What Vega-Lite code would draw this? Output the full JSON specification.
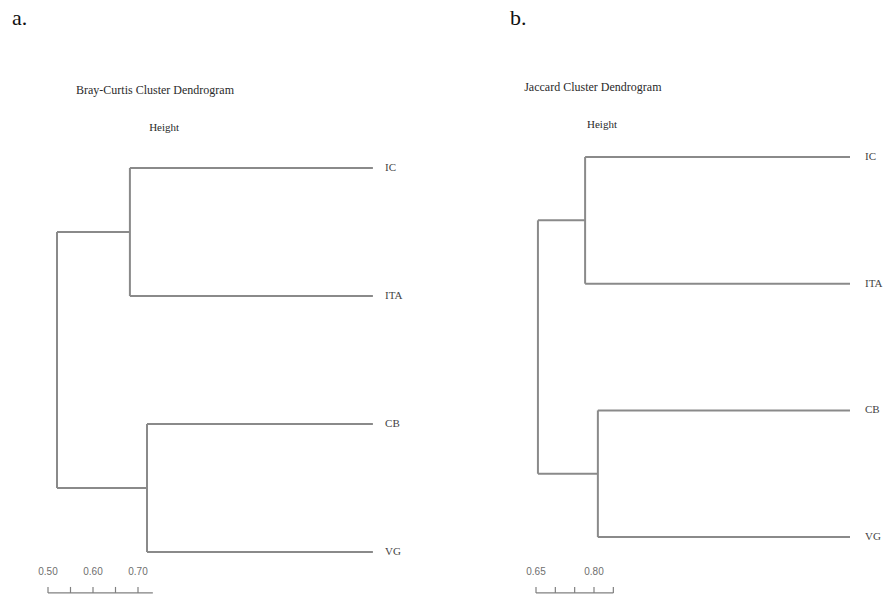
{
  "$schema": "https://vega.github.io/schema/vega-lite/v6.json",
  "padding": 0,
  "spacing": 0,
  "bounds": "flush",
  "background": "white",
  "config": {"view": {"stroke": null}},
  "datasets": {
    "treeA": [
      {"h": 0.682, "h2": 1.222, "p": 1, "p2": 1},
      {"h": 0.682, "h2": 1.222, "p": 2, "p2": 2},
      {"h": 0.682, "h2": 0.682, "p": 1, "p2": 2},
      {"h": 0.52, "h2": 0.682, "p": 1.5, "p2": 1.5},
      {"h": 0.72, "h2": 1.222, "p": 3, "p2": 3},
      {"h": 0.72, "h2": 1.222, "p": 4, "p2": 4},
      {"h": 0.72, "h2": 0.72, "p": 3, "p2": 4},
      {"h": 0.52, "h2": 0.72, "p": 3.5, "p2": 3.5},
      {"h": 0.52, "h2": 0.52, "p": 1.5, "p2": 3.5}
    ],
    "axisA": [
      {"h": 0.5, "h2": 0.733, "p": 4.32, "p2": 4.32},
      {"h": 0.5, "h2": 0.5, "p": 4.273, "p2": 4.32},
      {"h": 0.55, "h2": 0.55, "p": 4.273, "p2": 4.32},
      {"h": 0.6, "h2": 0.6, "p": 4.273, "p2": 4.32},
      {"h": 0.65, "h2": 0.65, "p": 4.273, "p2": 4.32},
      {"h": 0.7, "h2": 0.7, "p": 4.273, "p2": 4.32}
    ],
    "tickLabA": [
      {"h": 0.5, "p": 4.156, "t": "0.50"},
      {"h": 0.6, "p": 4.156, "t": "0.60"},
      {"h": 0.7, "p": 4.156, "t": "0.70"}
    ],
    "leafA": [
      {"h": 1.249, "p": 1, "t": "IC"},
      {"h": 1.249, "p": 2, "t": "ITA"},
      {"h": 1.249, "p": 3, "t": "CB"},
      {"h": 1.249, "p": 4, "t": "VG"}
    ],
    "textA": [
      {"h": 0.7378, "p": 0.391, "t": "Bray-Curtis Cluster Dendrogram", "s": 12},
      {"h": 0.758, "p": 0.6875, "t": "Height", "s": 11}
    ],
    "treeB": [
      {"h": 0.777, "h2": 1.462, "p": 1, "p2": 1},
      {"h": 0.777, "h2": 1.462, "p": 2, "p2": 2},
      {"h": 0.777, "h2": 0.777, "p": 1, "p2": 2},
      {"h": 0.655, "h2": 0.777, "p": 1.5, "p2": 1.5},
      {"h": 0.81, "h2": 1.462, "p": 3, "p2": 3},
      {"h": 0.81, "h2": 1.462, "p": 4, "p2": 4},
      {"h": 0.81, "h2": 0.81, "p": 3, "p2": 4},
      {"h": 0.655, "h2": 0.81, "p": 3.5, "p2": 3.5},
      {"h": 0.655, "h2": 0.655, "p": 1.5, "p2": 3.5}
    ],
    "axisB": [
      {"h": 0.65, "h2": 0.85, "p": 4.441, "p2": 4.441},
      {"h": 0.65, "h2": 0.65, "p": 4.394, "p2": 4.441},
      {"h": 0.7, "h2": 0.7, "p": 4.394, "p2": 4.441},
      {"h": 0.75, "h2": 0.75, "p": 4.394, "p2": 4.441},
      {"h": 0.8, "h2": 0.8, "p": 4.394, "p2": 4.441},
      {"h": 0.85, "h2": 0.85, "p": 4.394, "p2": 4.441}
    ],
    "tickLabB": [
      {"h": 0.65, "p": 4.275, "t": "0.65"},
      {"h": 0.8, "p": 4.275, "t": "0.80"}
    ],
    "leafB": [
      {"h": 1.5008, "p": 1, "t": "IC"},
      {"h": 1.5008, "p": 2, "t": "ITA"},
      {"h": 1.5008, "p": 3, "t": "CB"},
      {"h": 1.5008, "p": 4, "t": "VG"}
    ],
    "textB": [
      {"h": 0.797, "p": 0.4475, "t": "Jaccard Cluster Dendrogram", "s": 12},
      {"h": 0.8207, "p": 0.7474, "t": "Height", "s": 11}
    ]
  },
  "hconcat": [
    {
      "width": 443,
      "height": 595,
      "layer": [
        {
          "data": {"name": "treeA"},
          "mark": {"type": "rule", "color": "#8a8a8a", "strokeWidth": 2},
          "encoding": {
            "x": {"field": "h", "type": "quantitative", "scale": {"domain": [0.39333, 1.37778], "nice": false, "zero": false}, "axis": null},
            "x2": {"field": "h2"},
            "y": {"field": "p", "type": "quantitative", "scale": {"domain": [-0.3125, 4.3359], "nice": false, "zero": false, "reverse": true}, "axis": null},
            "y2": {"field": "p2"}
          }
        },
        {
          "data": {"name": "axisA"},
          "mark": {"type": "rule", "color": "#808080", "strokeWidth": 1.2},
          "encoding": {
            "x": {"field": "h", "type": "quantitative"},
            "x2": {"field": "h2"},
            "y": {"field": "p", "type": "quantitative"},
            "y2": {"field": "p2"}
          }
        },
        {
          "data": {"name": "tickLabA"},
          "mark": {"type": "text", "font": "Liberation Sans", "fontSize": 10, "color": "#6e6e6e", "align": "center", "baseline": "middle"},
          "encoding": {
            "x": {"field": "h", "type": "quantitative"},
            "y": {"field": "p", "type": "quantitative"},
            "text": {"field": "t"}
          }
        },
        {
          "data": {"name": "leafA"},
          "mark": {"type": "text", "font": "Liberation Serif", "fontSize": 11, "color": "#444444", "align": "left", "baseline": "middle"},
          "encoding": {
            "x": {"field": "h", "type": "quantitative"},
            "y": {"field": "p", "type": "quantitative"},
            "text": {"field": "t"}
          }
        },
        {
          "data": {"name": "textA"},
          "mark": {"type": "text", "font": "Liberation Serif", "color": "#2a2a2a", "align": "center", "baseline": "middle"},
          "encoding": {
            "x": {"field": "h", "type": "quantitative"},
            "y": {"field": "p", "type": "quantitative"},
            "text": {"field": "t"},
            "size": {"field": "s", "type": "quantitative", "scale": null}
          }
        },
        {
          "data": {"values": [{"h": 0.42, "p": -0.172, "t": "a."}]},
          "mark": {"type": "text", "font": "Liberation Serif", "fontSize": 22, "color": "#111111", "align": "left", "baseline": "middle"},
          "encoding": {
            "x": {"field": "h", "type": "quantitative"},
            "y": {"field": "p", "type": "quantitative"},
            "text": {"field": "t"}
          }
        }
      ]
    },
    {
      "width": 444,
      "height": 595,
      "layer": [
        {
          "data": {"name": "treeB"},
          "mark": {"type": "rule", "color": "#8a8a8a", "strokeWidth": 2},
          "encoding": {
            "x": {"field": "h", "type": "quantitative", "scale": {"domain": [0.4095, 1.5577], "nice": false, "zero": false}, "axis": null},
            "x2": {"field": "h2"},
            "y": {"field": "p", "type": "quantitative", "scale": {"domain": [-0.2391, 4.457], "nice": false, "zero": false, "reverse": true}, "axis": null},
            "y2": {"field": "p2"}
          }
        },
        {
          "data": {"name": "axisB"},
          "mark": {"type": "rule", "color": "#808080", "strokeWidth": 1.2},
          "encoding": {
            "x": {"field": "h", "type": "quantitative"},
            "x2": {"field": "h2"},
            "y": {"field": "p", "type": "quantitative"},
            "y2": {"field": "p2"}
          }
        },
        {
          "data": {"name": "tickLabB"},
          "mark": {"type": "text", "font": "Liberation Sans", "fontSize": 10, "color": "#6e6e6e", "align": "center", "baseline": "middle"},
          "encoding": {
            "x": {"field": "h", "type": "quantitative"},
            "y": {"field": "p", "type": "quantitative"},
            "text": {"field": "t"}
          }
        },
        {
          "data": {"name": "leafB"},
          "mark": {"type": "text", "font": "Liberation Serif", "fontSize": 11, "color": "#444444", "align": "left", "baseline": "middle"},
          "encoding": {
            "x": {"field": "h", "type": "quantitative"},
            "y": {"field": "p", "type": "quantitative"},
            "text": {"field": "t"}
          }
        },
        {
          "data": {"name": "textB"},
          "mark": {"type": "text", "font": "Liberation Serif", "color": "#2a2a2a", "align": "center", "baseline": "middle"},
          "encoding": {
            "x": {"field": "h", "type": "quantitative"},
            "y": {"field": "p", "type": "quantitative"},
            "text": {"field": "t"},
            "size": {"field": "s", "type": "quantitative", "scale": null}
          }
        },
        {
          "data": {"values": [{"h": 0.5828, "p": -0.097, "t": "b."}]},
          "mark": {"type": "text", "font": "Liberation Serif", "fontSize": 22, "color": "#111111", "align": "left", "baseline": "middle"},
          "encoding": {
            "x": {"field": "h", "type": "quantitative"},
            "y": {"field": "p", "type": "quantitative"},
            "text": {"field": "t"}
          }
        }
      ]
    }
  ]
}
